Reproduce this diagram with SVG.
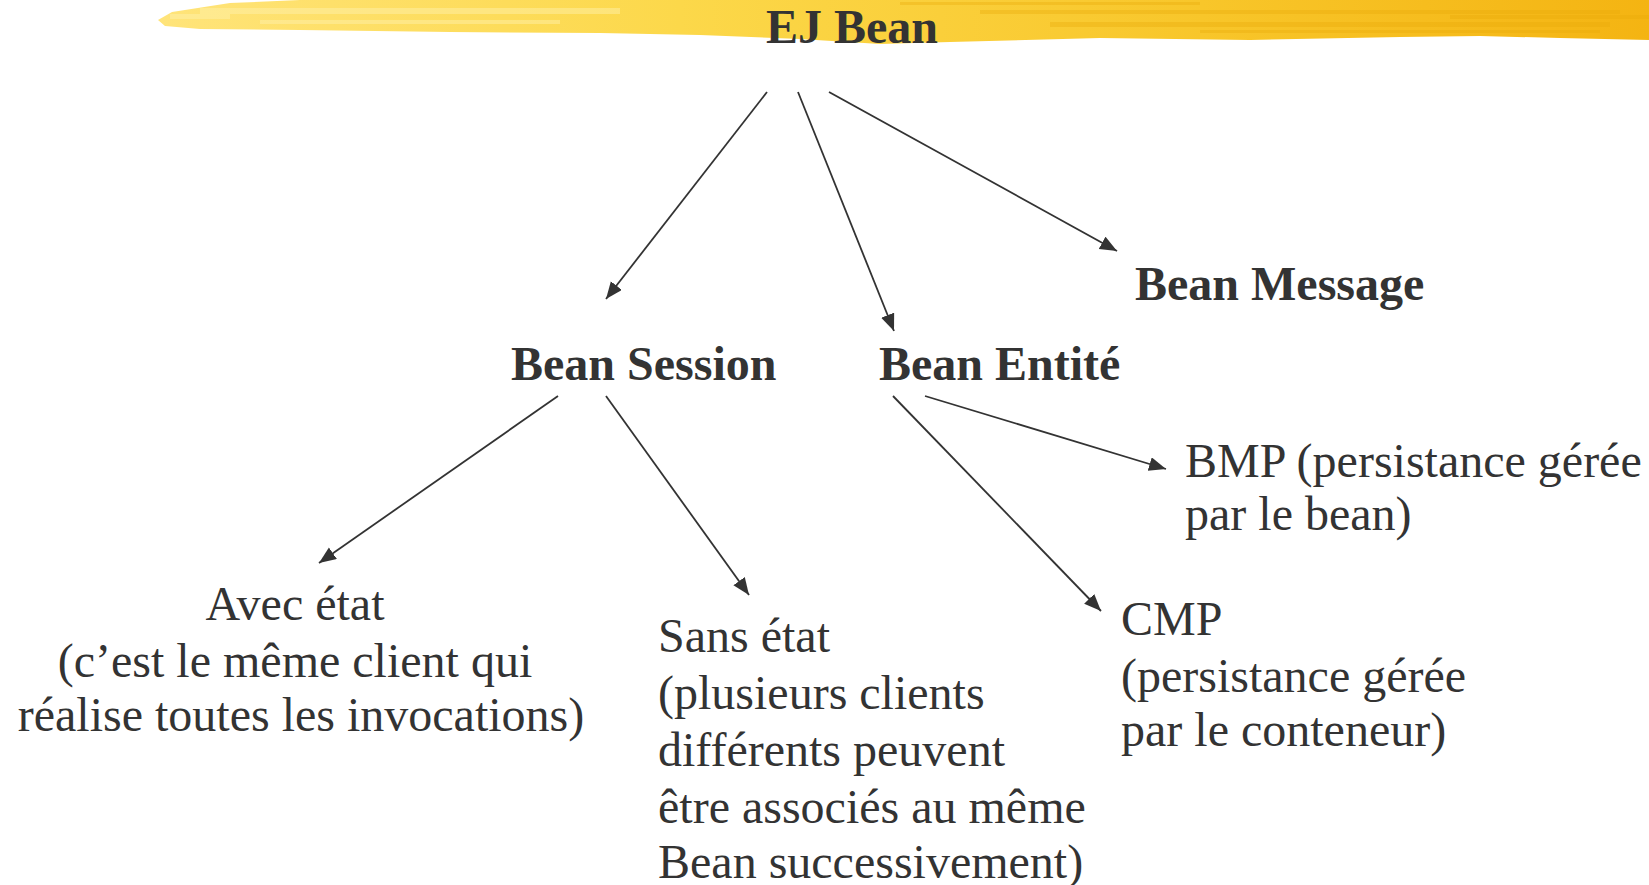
<svg xmlns="http://www.w3.org/2000/svg" width="1649" height="885" viewBox="0 0 1649 885">
  <defs>
    <linearGradient id="brush" x1="0" y1="0" x2="1" y2="0">
      <stop offset="0" stop-color="#FFE47A"/>
      <stop offset="0.35" stop-color="#FCD84A"/>
      <stop offset="0.7" stop-color="#F8C62A"/>
      <stop offset="1" stop-color="#F4B412"/>
    </linearGradient>
    <marker id="arrow" markerUnits="userSpaceOnUse" markerWidth="18" markerHeight="16" refX="17" refY="7" orient="auto">
      <path d="M0,0 L17,7 L0,14 Z" fill="#333333"/>
    </marker>
    <style>
      .title { font-family: "Liberation Serif", "Times New Roman", serif; font-weight: bold; font-size: 48px; fill: #333333; }
      .label { font-family: "Liberation Serif", "Times New Roman", serif; font-size: 48px; fill: #333333; }
      .edge { stroke: #333333; stroke-width: 1.8; fill: none; marker-end: url(#arrow); }
      .streak { fill: #E9A80A; opacity: 0.35; }
      .light { fill: #FFF2B0; opacity: 0.45; }
    </style>
  </defs>

  <rect width="1649" height="885" fill="#FFFFFF"/>

  <!-- painted brush band behind the heading -->
  <g id="header-band">
    <path d="M158,20 L172,12 L230,3 L300,0 L1649,0 L1649,40 L1560,38 L1480,36 L1400,37 L1250,40 L1100,38 L950,42 L880,44 L800,39 L700,35 L600,33 L450,32 L300,30 L200,29 L165,26 Z" fill="url(#brush)"/>
    <rect class="light" x="200" y="8" width="420" height="6"/>
    <rect class="light" x="260" y="20" width="300" height="4"/>
    <rect class="light" x="170" y="14" width="60" height="5"/>
    <rect class="streak" x="980" y="10" width="640" height="4"/>
    <rect class="streak" x="1050" y="22" width="560" height="5"/>
    <rect class="streak" x="1200" y="30" width="400" height="3"/>
    <rect class="streak" x="900" y="2" width="300" height="3"/>
    <rect class="streak" x="1450" y="15" width="199" height="4"/>
  </g>

  <!-- connectors -->
  <g id="connectors">
    <line class="edge" x1="767" y1="92" x2="606" y2="299"/>
    <line class="edge" x1="798" y1="92" x2="894" y2="331"/>
    <line class="edge" x1="829" y1="92" x2="1117" y2="251"/>
    <line class="edge" x1="558" y1="396" x2="319" y2="563"/>
    <line class="edge" x1="606" y1="396" x2="749" y2="595"/>
    <line class="edge" x1="893" y1="396" x2="1101" y2="611"/>
    <line class="edge" x1="925" y1="396" x2="1166" y2="469"/>
  </g>

  <g id="ejbean">
    <text class="title" x="852" y="43" text-anchor="middle">EJ Bean</text>
  </g>

  <g id="bean-session">
    <text class="title" x="511" y="380">Bean Session</text>
  </g>

  <g id="bean-entite">
    <text class="title" x="879" y="380">Bean Entité</text>
  </g>

  <g id="bean-message">
    <text class="title" x="1135" y="300">Bean Message</text>
  </g>

  <g id="avec-etat">
    <text class="label" text-anchor="middle">
      <tspan x="301" y="620">Avec état</tspan>
      <tspan x="301" y="677">(c’est le même client qui</tspan>
      <tspan x="301" y="731">réalise toutes les invocations)</tspan>
    </text>
  </g>

  <g id="sans-etat">
    <text class="label">
      <tspan x="658" y="652">Sans état</tspan>
      <tspan x="658" y="709">(plusieurs clients</tspan>
      <tspan x="658" y="766">différents peuvent</tspan>
      <tspan x="658" y="823">être associés au même</tspan>
      <tspan x="658" y="878">Bean successivement)</tspan>
    </text>
  </g>

  <g id="cmp">
    <text class="label">
      <tspan x="1121" y="635">CMP</tspan>
      <tspan x="1121" y="692">(persistance gérée</tspan>
      <tspan x="1121" y="746">par le conteneur)</tspan>
    </text>
  </g>

  <g id="bmp">
    <text class="label">
      <tspan x="1185" y="477">BMP (persistance gérée</tspan>
      <tspan x="1185" y="530">par le bean)</tspan>
    </text>
  </g>
</svg>
